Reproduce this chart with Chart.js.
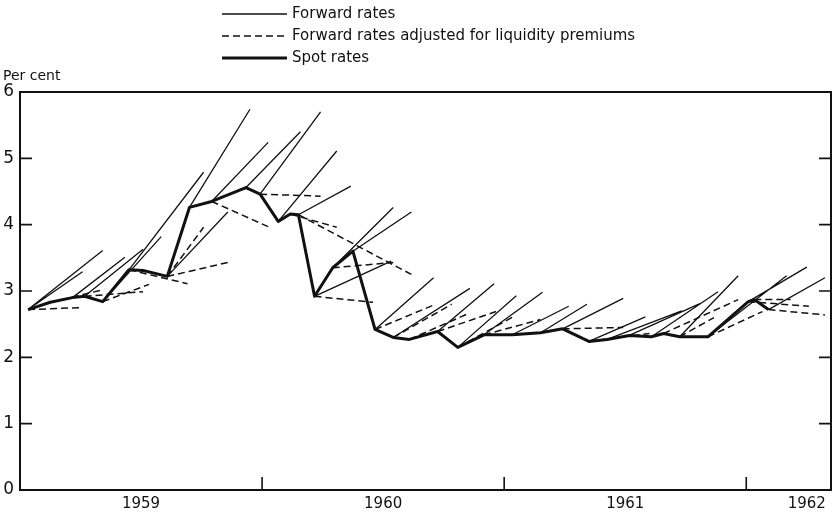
<!DOCTYPE html>
<html>
<head>
<meta charset="utf-8">
<script src="https://cdn.jsdelivr.net/npm/chart.js@4.4.1/dist/chart.umd.min.js"></script>
<style>
  html, body { margin: 0; padding: 0; background: #ffffff; }
  #wrap { width: 836px; height: 514px; position: relative; }
</style>
</head>
<body>
<div id="wrap"><canvas id="c" width="836" height="514"></canvas></div>
<script>
// x values are months since January 1959
const yearLabels = ["1959", "1960", "1961", "1962"];
const yearLabelPos = [6, 18, 30, 39.0];
const yearBoundaries = [12, 24, 36];
const yTicks = [0, 1, 2, 3, 4, 5, 6];

const legendLabels = ["Forward rates", "Forward rates adjusted for liquidity premiums", "Spot rates"];
const axisTitle = "Per cent";

// Spot rates
const spotMonths = [0.4,1.5,2.6,3.2,4.1,5.4,6.1,7.3,8.4,9.5,11.2,11.9,12.8,13.4,13.8,14.6,15.5,16.5,17.6,18.5,19.3,20.7,21.7,23.0,24.4,25.8,26.9,28.2,29.1,30.2,31.3,31.9,32.7,34.1,36.1,36.4,37.1];
const spotRates  = [2.72,2.83,2.90,2.92,2.84,3.32,3.31,3.22,4.26,4.35,4.56,4.46,4.05,4.16,4.15,2.92,3.35,3.60,2.42,2.30,2.27,2.39,2.15,2.34,2.34,2.37,2.43,2.24,2.27,2.33,2.31,2.36,2.31,2.31,2.84,2.87,2.72];

// Forward rates: each segment starts at a spot observation (index) and ends at (month, rate)
const fwdFrom    = [0,0,2,3,4,5,7,8,9,10,11,12,14,15,16,17,18,19,21,22,23,24,25,26,27,28,29,30,32,33,34,36];
const fwdToMonth = [4.1,3.1,5.2,6.1,7.0,9.1,10.3,11.4,12.3,13.9,14.9,15.7,16.4,18.4,18.5,19.4,20.5,22.3,23.5,24.6,25.9,27.2,28.1,29.9,31.0,32.8,33.7,34.6,35.6,38.0,39.0,39.9];
const fwdToRate  = [3.61,3.29,3.51,3.63,3.82,4.79,4.19,5.74,5.24,5.40,5.70,5.11,4.58,3.45,4.26,4.19,3.20,3.04,3.11,2.93,2.98,2.77,2.80,2.89,2.61,2.70,2.81,2.99,3.23,3.23,3.36,3.20];

// Forward rates adjusted for liquidity premiums
const adjFrom    = [0,1,3,4,5,7,7,9,11,13,14,15,16,18,19,20,21,22,23,26,27,31,32,33,34,35,36];
const adjToMonth = [3.1,4.0,6.1,6.4,8.3,9.1,10.3,12.3,14.9,15.7,19.4,17.5,18.5,20.6,21.4,22.3,23.6,24.5,25.8,29.9,31.2,35.6,34.4,36.8,39.1,38.2,39.9];
const adjToRate  = [2.75,3.01,2.99,3.10,3.11,3.96,3.43,3.97,4.43,3.96,3.25,2.83,3.43,2.80,2.80,2.67,2.69,2.62,2.57,2.45,2.36,2.87,2.60,2.69,2.77,2.87,2.64];

function segments(fromIdx, toM, toR) {
  const out = [];
  for (let i = 0; i < fromIdx.length; i++) {
    const s = fromIdx[i];
    out.push({x: spotMonths[s], y: spotRates[s]});
    out.push({x: toM[i], y: toR[i]});
    out.push({x: toM[i], y: null});
  }
  return out;
}
const spotData = spotMonths.map((m, i) => ({x: m, y: spotRates[i]}));

const FONT = '"DejaVu Sans", "Liberation Sans", sans-serif';
const INK = '#111111';

const frame = {
  id: 'frame',
  afterDraw(chart) {
    const {ctx, chartArea: a, scales} = chart;
    ctx.save();
    ctx.strokeStyle = INK;
    ctx.lineWidth = 2;
    ctx.strokeRect(a.left, a.top, a.right - a.left, a.bottom - a.top);
    ctx.lineWidth = 1.6;
    ctx.beginPath();
    for (const v of [1,2,3,4,5]) {
      const y = scales.y.getPixelForValue(v);
      ctx.moveTo(a.left, y); ctx.lineTo(a.left + 12, y);
      ctx.moveTo(a.right, y); ctx.lineTo(a.right - 12, y);
    }
    for (const v of yearBoundaries) {
      const x = scales.x.getPixelForValue(v);
      ctx.moveTo(x, a.bottom); ctx.lineTo(x, a.bottom - 13);
    }
    ctx.stroke();
    // axis title
    ctx.fillStyle = INK;
    ctx.font = '14px ' + FONT;
    ctx.textBaseline = 'middle';
    ctx.textAlign = 'left';
    ctx.fillText(axisTitle, 3, 76);
    // legend
    ctx.font = '15px ' + FONT;
    const rows = [14, 36, 58];
    const styles = [
      {w: 1.3, dash: []},
      {w: 1.5, dash: [7, 4]},
      {w: 3, dash: []}
    ];
    for (let i = 0; i < 3; i++) {
      ctx.lineWidth = styles[i].w;
      ctx.setLineDash(styles[i].dash);
      ctx.beginPath();
      ctx.moveTo(222, rows[i]); ctx.lineTo(287, rows[i]);
      ctx.stroke();
      ctx.setLineDash([]);
      ctx.fillText(legendLabels[i], 292, rows[i]);
    }
    ctx.restore();
  }
};

new Chart(document.getElementById('c'), {
  type: 'line',
  data: {
    datasets: [
      {
        label: legendLabels[0],
        data: segments(fwdFrom, fwdToMonth, fwdToRate),
        borderColor: INK, borderWidth: 1.3, pointRadius: 0, spanGaps: false, tension: 0
      },
      {
        label: legendLabels[1],
        data: segments(adjFrom, adjToMonth, adjToRate),
        borderColor: INK, borderWidth: 1.5, borderDash: [7, 4], pointRadius: 0, spanGaps: false, tension: 0
      },
      {
        label: legendLabels[2],
        data: spotData,
        borderColor: INK, borderWidth: 3, pointRadius: 0, tension: 0, borderJoinStyle: 'round'
      }
    ]
  },
  options: {
    responsive: false,
    animation: false,
    layout: { padding: { top: 92, right: 5, left: 0, bottom: 0 } },
    plugins: { legend: { display: false }, tooltip: { enabled: false } },
    scales: {
      x: {
        type: 'linear', min: 0, max: 40.2,
        grid: { display: false, drawTicks: false },
        border: { display: false },
        afterBuildTicks(scale) { scale.ticks = yearLabelPos.map(v => ({value: v})); },
        afterFit(scale) { scale.height = 24; },
        ticks: {
          autoSkip: false, maxRotation: 0, padding: 5, color: INK,
          font: { family: FONT, size: 15 },
          callback(value, index) { return yearLabels[index]; }
        }
      },
      y: {
        type: 'linear', min: 0, max: 6,
        grid: { display: false, drawTicks: false },
        border: { display: false },
        afterBuildTicks(scale) { scale.ticks = yTicks.map(v => ({value: v})); },
        afterFit(scale) { scale.width = 20; },
        ticks: { padding: 6, color: INK, font: { family: FONT, size: 17 } }
      }
    }
  },
  plugins: [frame]
});
</script>
</body>
</html>
